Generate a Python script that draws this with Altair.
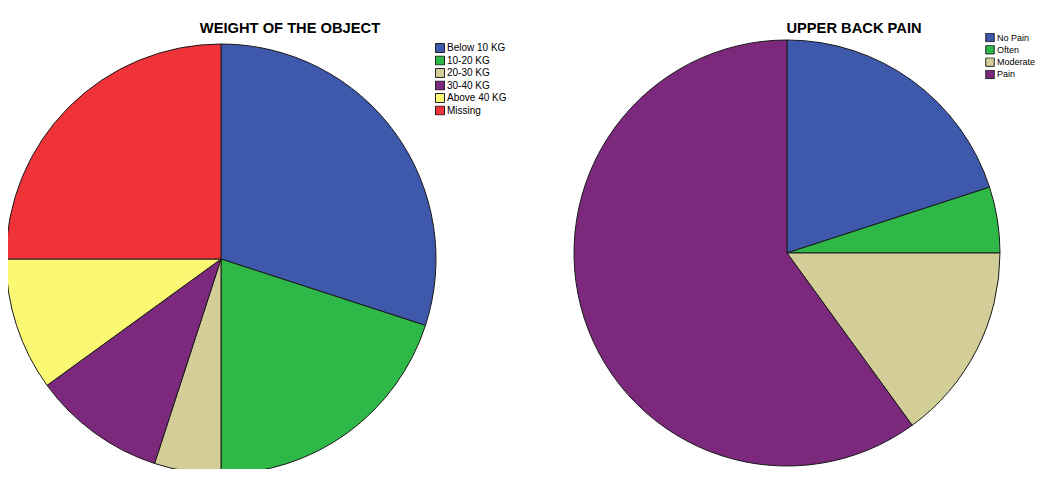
import altair as alt
import pandas as pd

weight_cats = ["Below 10 KG", "10-20 KG", "20-30 KG", "30-40 KG", "Above 40 KG", "Missing"]
weight_pct = [30, 20, 5, 10, 10, 25]
weight_colors = ["#3E58AC", "#2EB848", "#D3CE97", "#7C287D", "#FBF873", "#EF3338"]

pain_cats = ["No Pain", "Often", "Moderate", "Pain"]
pain_pct = [20, 5, 15, 60]
pain_colors = ["#3E58AC", "#2EB848", "#D3CE97", "#7C287D"]

titles = ["WEIGHT OF THE OBJECT", "UPPER BACK PAIN"]

FONT = "Liberation Sans"

df_w = pd.DataFrame({"cat": weight_cats, "pct": weight_pct, "idx": list(range(len(weight_cats)))})
df_p = pd.DataFrame({"cat": pain_cats, "pct": pain_pct, "idx": list(range(len(pain_cats)))})


def legend(x, y, fs, h, pad, sym):
    return alt.Legend(
        orient="none", legendX=x, legendY=y, title=None,
        symbolType="square", symbolSize=sym, symbolStrokeColor="#222222",
        symbolStrokeWidth=1, labelFont=FONT, labelFontSize=fs,
        labelColor="#000000", rowPadding=pad, clipHeight=h, labelOffset=2,
        padding=0, labelLimit=200,
    )


pie_w = alt.Chart(df_w).mark_arc(
    radius=215, stroke="#1a1a1a", strokeWidth=1
).encode(
    theta=alt.Theta("pct:Q", stack=True),
    order=alt.Order("idx:Q"),
    color=alt.Color("cat:N", scale=alt.Scale(domain=weight_cats, range=weight_colors),
                    sort=weight_cats, legend=legend(427, 35, 10, 10, 2.5, 81)),
    x=alt.value(213),
    y=alt.value(251),
)

pie_p = alt.Chart(df_p).mark_arc(
    radius=213, stroke="#1a1a1a", strokeWidth=1
).encode(
    theta=alt.Theta("pct:Q", stack=True),
    order=alt.Order("idx:Q"),
    color=alt.Color("cat:N", scale=alt.Scale(domain=pain_cats, range=pain_colors),
                    sort=pain_cats, legend=legend(977, 25, 9, 9, 2.3, 72)),
    x=alt.value(779),
    y=alt.value(245),
)

t1 = alt.Chart(pd.DataFrame({"t": [titles[0]]})).mark_text(
    font=FONT, fontSize=14.7, fontWeight="bold", color="#000000", baseline="alphabetic"
).encode(text="t:N", x=alt.value(282), y=alt.value(25))

t2 = alt.Chart(pd.DataFrame({"t": [titles[1]]})).mark_text(
    font=FONT, fontSize=14.7, fontWeight="bold", color="#000000", baseline="alphabetic"
).encode(text="t:N", x=alt.value(846), y=alt.value(25))

chart = alt.layer(pie_w, t1, pie_p, t2).resolve_scale(
    color="independent", theta="independent"
).properties(
    width=1027, height=461, padding=0,
    autosize=alt.AutoSizeParams(type="none"),
).configure_view(stroke=None)

chart.save("out.html", embed_options={"renderer": "svg", "actions": False})
